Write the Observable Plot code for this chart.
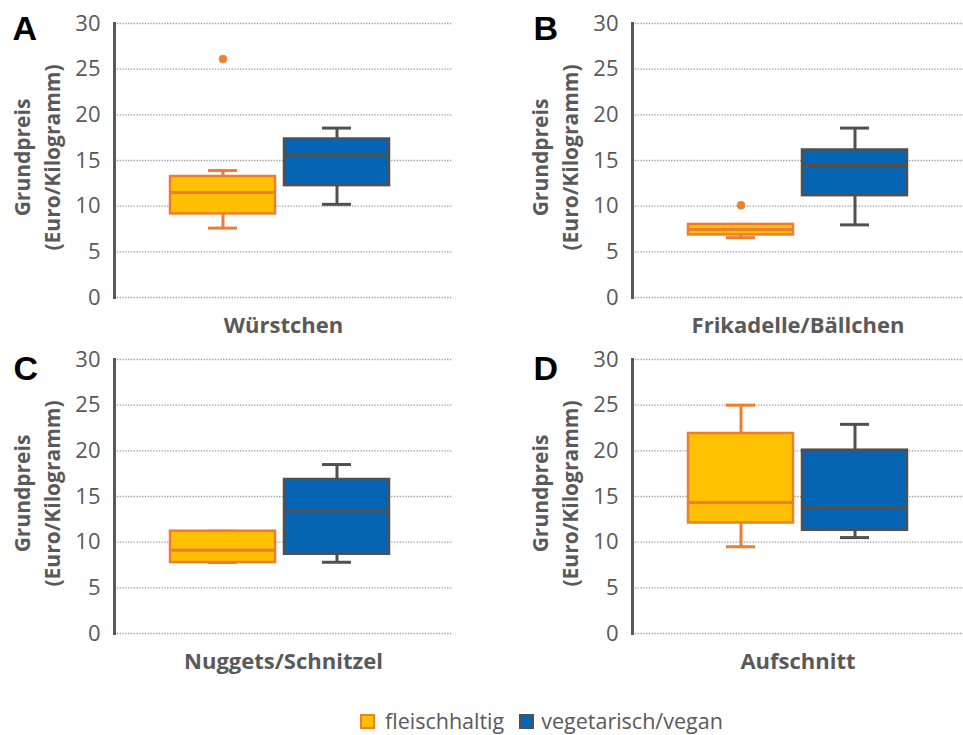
<!DOCTYPE html>
<html><head><meta charset="utf-8">
<script src="https://cdn.jsdelivr.net/npm/d3@7"></script>
<script src="https://cdn.jsdelivr.net/npm/@observablehq/plot@0.6"></script>
<style>
body{margin:0;background:#fff;}
#wrap{position:relative;width:963px;height:735px;overflow:hidden;font-family:"Open Sans",sans-serif;background:#fff;}
.panel{position:absolute;}
#legend{position:absolute;left:360px;top:706px;height:30px;line-height:30px;display:flex;align-items:center;font-size:21.5px;color:#595959;font-family:"Open Sans",sans-serif;}
.sw{width:11px;height:11px;border:2px solid;display:inline-block;margin-right:10px;}
</style></head><body><div id="wrap"></div>
<script>
// ---- data ----
const panelLetters = ["A", "B", "C", "D"];
const categories = ["Würstchen", "Frikadelle/Bällchen", "Nuggets/Schnitzel", "Aufschnitt"];
const groups = ["fleischhaltig", "vegetarisch/vegan"];
const yTicks = [0, 5, 10, 15, 20, 25, 30];
const yTitle = "Grundpreis\n(Euro/Kilogramm)";

// fleischhaltig (meat)
const meatMin    = [7.6, 6.55, 7.77, 9.5];
const meatQ1     = [9.15, 6.85, 7.77, 12.1];
const meatMedian = [11.5, 7.45, 9.12, 14.35];
const meatQ3     = [13.25, 8.0, 11.2, 21.9];
const meatMax    = [13.9, 8.0, 11.2, 25.0];
const meatOutliers = [26.1, 10.1, null, null];

// vegetarisch/vegan
const vegMin    = [10.2, 7.95, 7.8, 10.5];
const vegQ1     = [12.25, 11.15, 8.68, 11.3];
const vegMedian = [15.6, 14.45, 13.4, 13.75];
const vegQ3     = [17.35, 16.15, 16.86, 20.07];
const vegMax    = [18.55, 18.55, 18.5, 22.9];

// ---- layout / style ----
const layout = [
  {left: 0,   top: 0,   width: 480, marginLeft: 114, marginRight: 28, xRange: [170, 389],   letterDx: -102, letterDy: -8},
  {left: 480, top: 0,   width: 483, marginLeft: 152, marginRight: 0,  xRange: [207.5, 426.5], letterDx: -99,  letterDy: -8},
  {left: 0,   top: 336, width: 480, marginLeft: 114, marginRight: 28, xRange: [170, 389],   letterDx: -101, letterDy: -4},
  {left: 480, top: 336, width: 483, marginLeft: 152, marginRight: 0,  xRange: [207.5, 426.5], letterDx: -99,  letterDy: -4}
];
const groupStyle = [
  {fill: "#FFC000", stroke: "#ED7D31"},
  {fill: "#0565B2", stroke: "#505050"}
];
const textGray = "#595959";

const wrap = document.getElementById("wrap");

panelLetters.forEach((letter, i) => {
  const L = layout[i];
  const rows = [
    {group: groups[0], min: meatMin[i], q1: meatQ1[i], median: meatMedian[i], q3: meatQ3[i], max: meatMax[i]},
    {group: groups[1], min: vegMin[i], q1: vegQ1[i], median: vegMedian[i], q3: vegQ3[i], max: vegMax[i]}
  ];
  const outs = meatOutliers[i] == null ? [] : [{group: groups[0], value: meatOutliers[i]}];

  const marks = [
    Plot.ruleY(yTicks, {stroke: "#9a9a9a", strokeWidth: 1.3, strokeDasharray: "1.3,1.5"})
  ];
  groups.forEach((g, gi) => {
    const data = rows.filter(r => r.group === g);
    const st = groupStyle[gi];
    marks.push(
      Plot.ruleX(data, {x: "group", y1: "min", y2: "q1", stroke: st.stroke, strokeWidth: 3}),
      Plot.ruleX(data, {x: "group", y1: "q3", y2: "max", stroke: st.stroke, strokeWidth: 3}),
      Plot.tickY(data, {x: "group", y: "min", stroke: st.stroke, strokeWidth: 3, insetLeft: 38, insetRight: 38}),
      Plot.tickY(data, {x: "group", y: "max", stroke: st.stroke, strokeWidth: 3, insetLeft: 38, insetRight: 38}),
      Plot.barY(data, {x: "group", y1: "q1", y2: "q3", fill: st.fill, stroke: st.stroke, strokeWidth: 2.5}),
      Plot.tickY(data, {x: "group", y: "median", stroke: st.stroke, strokeWidth: 3})
    );
  });
  marks.push(
    Plot.dot(outs, {x: "group", y: "value", r: 4, fill: groupStyle[0].stroke, stroke: "#F39A3C", strokeWidth: 1}),
    Plot.frame({anchor: "left", stroke: textGray, strokeWidth: 3}),
    Plot.axisY({ticks: yTicks, tickSize: 0, tickPadding: 14, fontSize: 22, color: textGray, label: null}),
    Plot.text([yTitle], {text: d => d, frameAnchor: "left", rotate: -90, dx: -79, dy: -3,
      lineAnchor: "middle", textAnchor: "middle", lineHeight: 1.43, fontSize: 21, fontWeight: "bold", fill: textGray}),
    Plot.text([categories[i]], {text: d => d, frameAnchor: "bottom", lineAnchor: "middle", dy: 28,
      fontSize: 22, fontWeight: "bold", fill: textGray}),
    Plot.text([letter], {text: d => d, frameAnchor: "top-left", textAnchor: "start", lineAnchor: "top",
      dx: L.letterDx, dy: L.letterDy, fontSize: 34, fontWeight: "bold", fontFamily: "'Liberation Sans', Arial, sans-serif", fill: "#000"})
  );

  const chart = Plot.plot({
    width: L.width,
    height: 336,
    marginTop: 23,
    marginBottom: 39,
    marginLeft: L.marginLeft,
    marginRight: L.marginRight,
    x: {type: "band", domain: groups, range: L.xRange, paddingInner: 0.08, paddingOuter: 0, axis: null},
    y: {domain: [0, 30]},
    style: {fontFamily: "'Open Sans', sans-serif", background: "transparent", overflow: "visible"},
    marks
  });
  const div = document.createElement("div");
  div.className = "panel";
  div.style.left = L.left + "px";
  div.style.top = L.top + "px";
  div.appendChild(chart);
  wrap.appendChild(div);
});

// legend
const legend = document.createElement("div");
legend.id = "legend";
groups.forEach((g, gi) => {
  const sw = document.createElement("span");
  sw.className = "sw";
  sw.style.background = groupStyle[gi].fill;
  sw.style.borderColor = groupStyle[gi].stroke;
  if (gi > 0) { sw.style.marginLeft = "15px"; sw.style.marginRight = "7px"; }
  legend.appendChild(sw);
  const t = document.createElement("span");
  t.textContent = g;
  legend.appendChild(t);
});
wrap.appendChild(legend);
</script>
</body></html>
